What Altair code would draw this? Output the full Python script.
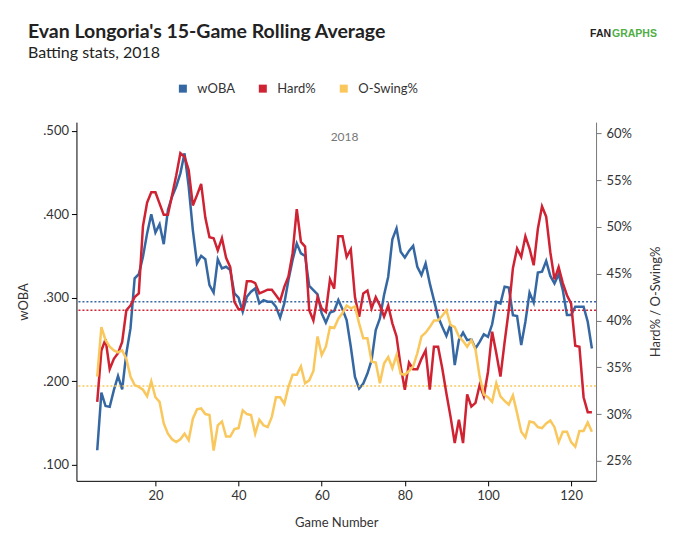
import altair as alt
import pandas as pd

games = list(range(6, 126))

woba = [
    0.117, 0.186, 0.170, 0.169, 0.189, 0.206, 0.190, 0.233, 0.263, 0.323,
    0.328, 0.349, 0.377, 0.400, 0.378, 0.388, 0.364, 0.405, 0.421, 0.433,
    0.449, 0.473, 0.433, 0.381, 0.341, 0.350, 0.346, 0.315, 0.306, 0.346,
    0.335, 0.337, 0.333, 0.305, 0.300, 0.283, 0.301, 0.307, 0.311, 0.293,
    0.297, 0.295, 0.295, 0.289, 0.276, 0.293, 0.321, 0.345, 0.365, 0.353,
    0.350, 0.314, 0.309, 0.304, 0.281, 0.270, 0.282, 0.284, 0.297, 0.286,
    0.273, 0.241, 0.205, 0.191, 0.197, 0.209, 0.225, 0.261, 0.275, 0.303,
    0.325, 0.370, 0.383, 0.355, 0.348, 0.356, 0.362, 0.337, 0.327, 0.341,
    0.317, 0.297, 0.277, 0.265, 0.254, 0.268, 0.219, 0.249, 0.258, 0.249,
    0.250, 0.239, 0.247, 0.256, 0.253, 0.268, 0.295, 0.293, 0.313, 0.312,
    0.279, 0.278, 0.243, 0.271, 0.306, 0.294, 0.330, 0.331, 0.344, 0.326,
    0.317, 0.328, 0.309, 0.279, 0.279, 0.289, 0.289, 0.289, 0.271, 0.239,
]

hard = [
    31.3, 36.8, 38.0, 34.8, 35.9, 36.5, 37.7, 41.1, 41.6, 42.5,
    42.9, 50.1, 52.6, 53.7, 53.7, 52.5, 51.3, 51.3, 53.4, 55.5,
    57.9, 57.5, 56.1, 52.3, 53.4, 54.6, 51.0, 48.9, 48.8, 47.5,
    48.8, 46.7, 45.7, 42.0, 41.2, 41.2, 44.2, 44.2, 44.0, 42.9,
    43.1, 43.3, 43.3, 42.7, 42.1, 43.6, 44.7, 47.2, 51.9, 48.4,
    47.9, 41.1, 40.0, 42.5, 41.3, 40.9, 44.4, 43.4, 49.0, 49.0,
    46.8, 47.6, 42.5, 40.4, 42.9, 43.2, 41.3, 42.5, 41.6, 40.4,
    41.6, 39.7, 38.3, 35.1, 32.6, 35.5, 34.8, 34.8, 35.9, 36.8,
    32.6, 37.2, 37.2, 34.9, 32.2, 29.7, 26.9, 29.4, 26.9, 32.1,
    30.8, 31.2, 33.1, 31.9, 34.5, 38.8, 36.5, 34.0, 37.7, 41.1,
    45.6, 47.7, 46.8, 49.0, 47.7, 45.9, 49.8, 52.2, 51.1, 47.3,
    44.4, 45.7, 44.0, 42.7, 41.8, 37.3, 37.2, 31.8, 30.2, 30.2,
]

oswing = [
    34.0, 39.3, 37.9, 37.2, 36.8, 36.6, 36.8, 35.9, 34.0, 33.1,
    32.9, 32.6, 31.9, 33.5, 31.8, 31.3, 29.0, 27.9, 27.3, 27.0,
    27.3, 27.9, 27.2, 29.5, 30.5, 30.6, 30.0, 29.9, 26.1, 28.8,
    29.2, 27.6, 27.6, 28.4, 28.5, 30.4, 30.0, 29.9, 27.9, 29.4,
    28.8, 28.6, 29.7, 31.8, 31.8, 31.1, 32.9, 34.2, 34.2, 35.1,
    33.3, 33.6, 34.6, 38.3, 36.3, 37.2, 39.3, 39.2, 40.2, 40.8,
    41.6, 41.3, 41.5, 39.7, 38.1, 38.1, 35.6, 35.5, 33.3, 35.4,
    36.1, 34.9, 36.3, 34.3, 34.2, 34.6, 35.1, 36.5, 38.3, 38.7,
    39.3, 40.0, 40.0, 40.5, 41.1, 39.5, 39.3, 38.3, 37.8, 37.2,
    37.9, 36.9, 34.0, 32.1, 31.8, 31.3, 33.3, 31.9, 31.4, 31.0,
    32.0, 30.1, 28.1, 27.5, 29.2, 29.1, 28.6, 28.5, 29.0, 29.3,
    28.6, 27.0, 28.1, 28.1, 27.0, 26.5, 28.2, 28.2, 29.1, 28.1,
]

avg_woba = [0.295]
avg_hard = [41.1]
avg_oswing = [33.0]

title_text = ["Evan Longoria's 15-Game Rolling Average"]
subtitle_text = ["Batting stats, 2018"]
season_label = ["2018"]
series_names = ["wOBA", "Hard%", "O-Swing%"]
series_colors = ["#3567a3", "#cf2232", "#f9c75b"]
x_ticks = [20, 40, 60, 80, 100, 120]
left_ticks = [0.1, 0.2, 0.3, 0.4, 0.5]
right_ticks = [0.25, 0.30, 0.35, 0.40, 0.45, 0.50, 0.55, 0.60]

df_left = pd.DataFrame({"game": games, "value": woba, "series": "wOBA"})
df_right = pd.concat([
    pd.DataFrame({"game": games, "value": [v / 100 for v in hard], "series": "Hard%"}),
    pd.DataFrame({"game": games, "value": [v / 100 for v in oswing], "series": "O-Swing%"}),
], ignore_index=True)
df_avg_left = pd.DataFrame({"value": avg_woba})
df_avg_right = pd.DataFrame({
    "value": [avg_hard[0] / 100, avg_oswing[0] / 100],
    "series": ["Hard%", "O-Swing%"],
})
df_season = pd.DataFrame({"label": season_label, "mid": [(games[0] + games[-1]) / 2]})

x_scale = alt.Scale(domain=[1, 126], nice=False, zero=False)
x_axis = alt.Axis(title="Game Number", values=x_ticks, grid=False, tickSize=5,
                  labelPadding=4, titlePadding=14, domainColor="#000", tickColor="#000")

yl_scale = alt.Scale(domain=[0.0803, 0.5104], nice=False, zero=False)
yl_axis = alt.Axis(title="wOBA", values=left_ticks, grid=False, tickSize=5,
                   labelPadding=3, titlePadding=12, domainColor="#000", tickColor="#000",
                   labelExpr="slice(format(datum.value, '.3f'), 1)")

yr_scale = alt.Scale(domain=[0.2286, 0.6121], nice=False, zero=False)
yr_axis = alt.Axis(title="Hard% / O-Swing%", values=right_ticks, format=".0%", orient="right",
                   grid=False, tickSize=5, labelPadding=5, titlePadding=18,
                   titleAngle=270, titleBaseline="top",
                   domainColor="#777", tickColor="#777")

color = alt.Color(
    "series:N",
    scale=alt.Scale(domain=series_names, range=series_colors),
    legend=alt.Legend(
        orient="none", legendX=100, legendY=-40, direction="horizontal", title=None,
        symbolType="square", symbolSize=9, symbolStrokeWidth=5,
        labelFontSize=13, labelColor="#333", labelOffset=8, columnPadding=16,
    ),
)


def label(text, x, y, **kw):
    return alt.Chart(pd.DataFrame({"t": text})).mark_text(
        align="left", baseline="alphabetic", **kw
    ).encode(x=alt.value(x), y=alt.value(y), text="t:N")


blue_line = alt.Chart(df_left).mark_line(strokeWidth=2.5).encode(
    x=alt.X("game:Q", scale=x_scale, axis=x_axis),
    y=alt.Y("value:Q", scale=yl_scale, axis=yl_axis),
    color=color,
)
blue_rule = alt.Chart(df_avg_left).mark_rule(
    color=series_colors[0], strokeDash=[2, 2], strokeWidth=1.5
).encode(y=alt.Y("value:Q", scale=yl_scale, axis=yl_axis))

season_text = alt.Chart(df_season).mark_text(
    fontSize=12, color="#777", baseline="middle", align="center"
).encode(x=alt.X("mid:Q", scale=x_scale, axis=x_axis), y=alt.value(15), text="label:N")

title_mark = label(title_text, -48.5, -84, font="Lato", fontSize=19.5, fontWeight="bold", color="#222")
subtitle_mark = label(subtitle_text, -48.5, -64, font="Lato", fontSize=16, color="#222")
logo_fan = label(["FAN"], 514, -85, font="Liberation Sans", fontSize=10.5, fontWeight="bold", color="#222")
logo_graphs = label(["GRAPHS"], 536, -85, font="Liberation Sans", fontSize=10.5, fontWeight="bold", color="#4fae46")

left = alt.layer(blue_rule, blue_line, season_text, title_mark, subtitle_mark, logo_fan, logo_graphs)

right_lines = alt.Chart(df_right).mark_line(strokeWidth=2.5).encode(
    x=alt.X("game:Q", scale=x_scale, axis=x_axis),
    y=alt.Y("value:Q", scale=yr_scale, axis=yr_axis),
    color=color,
    order=alt.Order("game:Q"),
)
right_rules = alt.Chart(df_avg_right).mark_rule(strokeDash=[2, 2], strokeWidth=1.5).encode(
    y=alt.Y("value:Q", scale=yr_scale, axis=yr_axis),
    color=alt.Color("series:N", scale=alt.Scale(domain=series_names, range=series_colors), legend=None),
)
right = alt.layer(right_rules, right_lines)

chart = alt.layer(left, right).resolve_scale(y="independent").properties(
    width=520,
    height=359,
    autosize=alt.AutoSizeParams(type="none"),
    padding={"left": 68.5, "top": 114, "right": 73, "bottom": 57},
).configure(font="Lato").configure_view(stroke=None).configure_axis(
    labelFont="Lato", titleFont="Lato", labelFontSize=13, titleFontSize=13,
    titleFontWeight="normal", labelColor="#333", titleColor="#333",
)

chart.save("out.html", embed_options={"renderer": "svg", "actions": False})
